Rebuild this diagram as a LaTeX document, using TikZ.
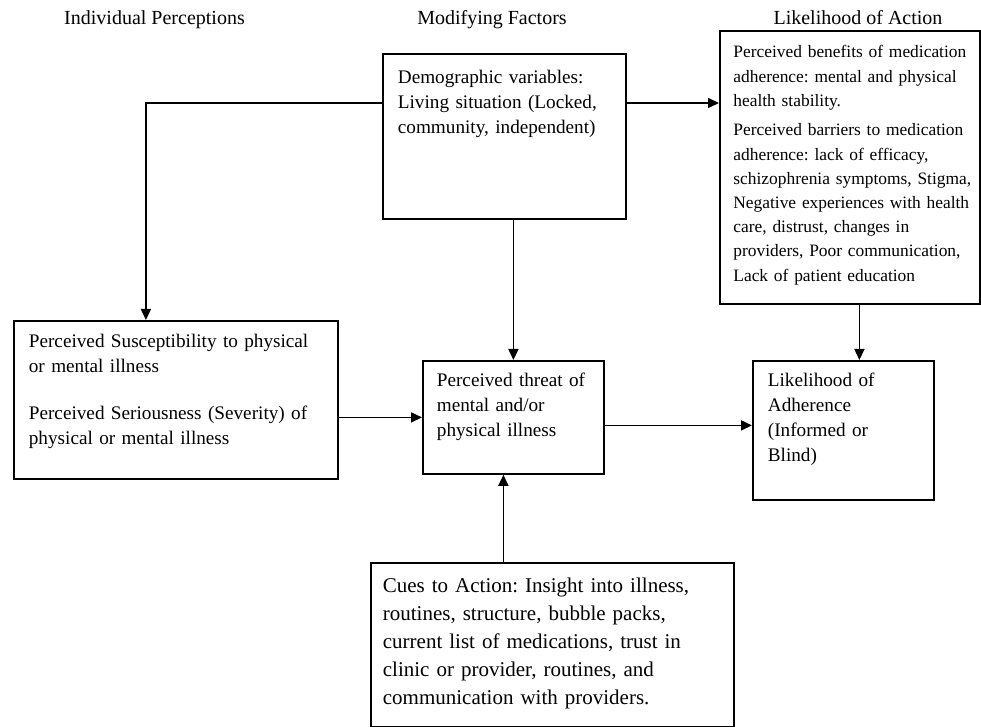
\documentclass[tikz,border=0pt]{standalone}
\usepackage{fontspec}
\setmainfont{Liberation Serif}
\usetikzlibrary{arrows.meta}

\begin{document}
\frenchspacing
\begin{tikzpicture}[
    x=0.5pt, y=-0.5pt,
    font=\fontsize{9.6}{12.5}\selectfont,
    >={Triangle[length=5.5pt, width=5pt]},
    box/.style    ={draw=black, line width=0.9pt, anchor=north west, align=left,
                    inner xsep=7.5pt, inner ysep=0pt},
    smallbox/.style={box, inner xsep=1.25pt, font=\fontsize{8.7}{12.1}\selectfont,
                    execute at begin node={\leftskip=5.5pt\relax}},
    cuebox/.style ={box, inner xsep=6pt, font=\fontsize{10.5}{14}\selectfont},
    hdr/.style    ={anchor=base, inner sep=0pt, font=\fontsize{10}{12}\selectfont},
    flow/.style   ={->, line width=0.8pt, draw=black}
]
\useasboundingbox (0,0) rectangle (981,727);

% --- Column headings. ---
\node[hdr] (hdrperc)   at (154.5,25) {Individual Perceptions};
\node[hdr] (hdrmod)    at (492,25)   {Modifying Factors};
\node[hdr] (hdraction) at (858,25)   {Likelihood of Action};

% --- Top row: modifying factors and perceived benefits/barriers. ---
\node[box, text width=106.5pt, text height=15pt, text depth=67.5pt] (demo) at (382,53)
  {Demographic variables:\\ Living situation (Locked,\\ community, independent)};
\node[smallbox, text width=127.5pt, text height=13.5pt, text depth=123pt] (benefit) at (719,30)
  {Perceived benefits of medication\\ adherence: mental and physical\\ health stability.\\[2.7pt]
   Perceived barriers to medication\\ adherence: lack of efficacy,\\ schizophrenia symptoms, Stigma,\\
   Negative experiences with health\\ care, distrust, changes in\\ providers, Poor communication,\\
   Lack of patient education};

% --- Middle row. ---
\node[box, text width=147pt, text height=13.5pt, text depth=65.5pt] (suscept) at (13,320)
  {Perceived Susceptibility to physical\\ or mental illness\\[11pt]
   Perceived Seriousness (Severity) of\\ physical or mental illness};
\node[box, inner xsep=7pt, text width=76.5pt, text height=13pt, text depth=43.5pt] (threat) at (422,360)
  {Perceived threat of\\ mental and/or\\ physical illness};
\node[box, text width=75.5pt, text height=13pt, text depth=56.5pt] (adhere) at (752,360)
  {Likelihood of\\ Adherence\\ (Informed or\\ Blind)};

% --- Cues at the bottom. ---
\node[cuebox, text width=169.5pt, text height=15pt, text depth=67pt] (cues) at (370,562)
  {Cues to Action: Insight into illness,\\ routines, structure, bubble packs,\\
   current list of medications, trust in\\ clinic or provider, routines, and\\
   communication with providers.};

% --- Demographics feed left, right and down. ---
\draw[flow] ([yshift=-25pt]demo.north west) -| ([xshift=-15pt]suscept.north);
\draw[flow] ([yshift=-25pt]demo.north east) -- ([yshift=-25pt]demo.north east -| benefit.west);
\draw[flow] (threat.north |- demo.south) -- (threat.north);

% --- Threat pipeline. ---
\draw[flow] (suscept.east |- threat.west) -- (threat.west);
\draw[flow] ([yshift=-4pt]threat.east) -- ([yshift=-4pt]threat.east -| adhere.west);
\draw[flow] ([xshift=8pt]adhere.north |- benefit.south) -- ([xshift=8pt]adhere.north);
\draw[flow] ([xshift=-5pt]threat.south |- cues.north) -- ([xshift=-5pt]threat.south);

\end{tikzpicture}
\end{document}
